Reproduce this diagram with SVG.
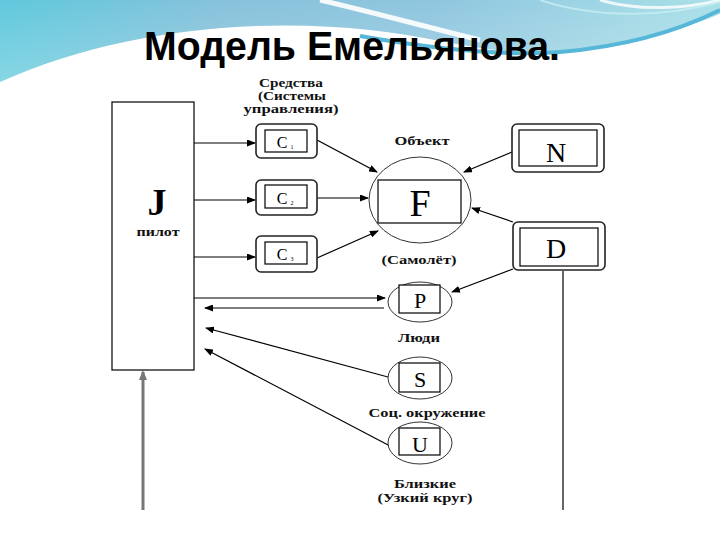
<svg xmlns="http://www.w3.org/2000/svg" width="720" height="540" viewBox="0 0 720 540">
<defs>
<linearGradient id="bg1" x1="0" y1="0" x2="1" y2="0">
<stop offset="0" stop-color="#5fc9dc"/>
<stop offset="0.3" stop-color="#86c2db"/>
<stop offset="0.6" stop-color="#8fc6df"/>
<stop offset="1" stop-color="#a9e0e8"/>
</linearGradient>
<linearGradient id="bg2" x1="0" y1="0" x2="0" y2="1">
<stop offset="0" stop-color="#ffffff" stop-opacity="0"/>
<stop offset="1" stop-color="#ffffff" stop-opacity="0.25"/>
</linearGradient>
<marker id="ah" markerUnits="userSpaceOnUse" markerWidth="9" markerHeight="7" refX="8" refY="3.5" orient="auto">
<path d="M0,0 L9,3.5 L0,7 Z" fill="#000"/>
</marker>
<marker id="ahg" markerUnits="userSpaceOnUse" markerWidth="10" markerHeight="8" refX="8" refY="4" orient="auto">
<path d="M0,0 L10,4 L0,8 Z" fill="#777"/>
</marker>
</defs>
<style>
.ln{stroke:#000;stroke-width:1.2;fill:none}
.box{fill:#fff;stroke:#000;stroke-width:1.2}
.obox{fill:#fff;stroke:#222;stroke-width:1.6}
.ell{fill:#fff;stroke:#333;stroke-width:1}
.lbl{font-family:"Liberation Serif","DejaVu Serif",serif;font-weight:bold;font-size:12px;fill:#111;text-anchor:middle}
.big{font-family:"Liberation Serif","DejaVu Serif",serif;fill:#000;text-anchor:middle}
</style>
<rect x="0" y="0" width="720" height="540" fill="#fff"/>
<g id="background">
<path d="M0,0 H720 V14 C660,38 600,52 545,53 C480,53 430,36 370,30 C260,18 120,28 0,82 Z" fill="url(#bg1)"/>
<path d="M0,0 H720 V14 C660,38 600,52 545,53 C480,53 430,36 370,30 C260,18 120,28 0,82 Z" fill="url(#bg2)"/>
<path d="M360,36 C440,50 510,56 560,52 C630,46 680,30 720,10" fill="none" stroke="#56b7d8" stroke-width="4"/>
<path d="M320,0 C380,14 430,28 480,40" fill="none" stroke="#fff" stroke-width="5" opacity="0.9"/>
<path d="M600,0 C640,12 690,8 720,0" fill="none" stroke="#fff" stroke-width="3" opacity="0.8"/>
<path d="M540,0 C600,20 670,16 720,2" fill="none" stroke="#c8eef2" stroke-width="2" opacity="0.8"/>
</g>
<text x="352" y="60" font-family="Liberation Sans, Arial, sans-serif" font-weight="bold" font-size="40" text-anchor="middle" textLength="416" lengthAdjust="spacingAndGlyphs" fill="#000">Модель Емельянова.</text>

<g id="connectors">
<line class="ln" x1="194" y1="143" x2="255" y2="143" marker-end="url(#ah)"/>
<line class="ln" x1="194" y1="200" x2="255" y2="200" marker-end="url(#ah)"/>
<line class="ln" x1="194" y1="257" x2="255" y2="257" marker-end="url(#ah)"/>
<line class="ln" x1="317" y1="140" x2="377" y2="172" marker-end="url(#ah)"/>
<line class="ln" x1="317" y1="198" x2="368" y2="198" marker-end="url(#ah)"/>
<line class="ln" x1="317" y1="258" x2="378" y2="231" marker-end="url(#ah)"/>
<line class="ln" x1="512" y1="152" x2="464" y2="172" marker-end="url(#ah)"/>
<line class="ln" x1="513" y1="222" x2="472" y2="208" marker-end="url(#ah)"/>
<line class="ln" x1="513" y1="269" x2="452" y2="292" marker-end="url(#ah)"/>
<line class="ln" x1="563" y1="271" x2="563" y2="510"/>
<line class="ln" x1="194" y1="298" x2="385" y2="298" marker-end="url(#ah)"/>
<line class="ln" x1="384" y1="308" x2="205" y2="308" marker-end="url(#ah)"/>
<line class="ln" x1="388" y1="377" x2="206" y2="328" marker-end="url(#ah)"/>
<line class="ln" x1="390" y1="446" x2="205" y2="349" marker-end="url(#ah)"/>
<line x1="143" y1="510" x2="143" y2="372" stroke="#777" stroke-width="3" marker-end="url(#ahg)"/>
</g>

<g id="node-J">
<rect class="box" x="112" y="102" width="82" height="268"/>
<text class="big" x="157" y="215" font-size="38" font-weight="bold">J</text>
<text class="lbl" x="158" y="236" textLength="43" lengthAdjust="spacingAndGlyphs">пилот</text>
</g>

<g id="label-sredstva">
<text class="lbl" x="291" y="87" textLength="64" lengthAdjust="spacingAndGlyphs">Средства</text>
<text class="lbl" x="292" y="100" textLength="68" lengthAdjust="spacingAndGlyphs">(Системы</text>
<text class="lbl" x="291" y="113" textLength="95" lengthAdjust="spacingAndGlyphs">управления)</text>
</g>

<g id="node-C1">
<rect class="obox" x="256" y="124" width="61" height="34" rx="5"/>
<rect class="box" x="265" y="130" width="42" height="22"/>
<text class="big" x="282" y="148" font-size="16">C</text>
<text class="big" x="292" y="149" font-size="6">1</text>
</g>
<g id="node-C2">
<rect class="obox" x="256" y="180" width="61" height="35" rx="5"/>
<rect class="box" x="265" y="185" width="42" height="23"/>
<text class="big" x="282" y="204" font-size="16">C</text>
<text class="big" x="292" y="205" font-size="6">2</text>
</g>
<g id="node-C3">
<rect class="obox" x="256" y="236" width="61" height="36" rx="5"/>
<rect class="box" x="265" y="242" width="42" height="22"/>
<text class="big" x="282" y="260" font-size="16">C</text>
<text class="big" x="292" y="261" font-size="6">3</text>
</g>

<g id="node-F">
<text class="lbl" x="422" y="145" textLength="55" lengthAdjust="spacingAndGlyphs">Объект</text>
<ellipse class="ell" cx="420" cy="200" rx="51" ry="43"/>
<rect class="box" x="378" y="180" width="83" height="43" stroke-width="1.5"/>
<text class="big" x="420" y="216" font-size="38">F</text>
<text class="lbl" x="419" y="264" textLength="75" lengthAdjust="spacingAndGlyphs">(Самолёт)</text>
</g>

<g id="node-N">
<rect class="obox" x="512" y="124" width="92" height="48" rx="5"/>
<rect class="box" x="519" y="130" width="78" height="36"/>
<text class="big" x="556" y="162" font-size="28">N</text>
</g>

<g id="node-D">
<rect class="obox" x="513" y="222" width="92" height="48" rx="5"/>
<rect class="box" x="520" y="228" width="78" height="38"/>
<text class="big" x="556" y="258" font-size="28">D</text>
</g>

<g id="node-P">
<ellipse class="ell" cx="420" cy="302" rx="32" ry="20"/>
<rect class="box" x="399" y="285" width="41" height="28"/>
<text class="big" x="420" y="308" font-size="22">P</text>
<text class="lbl" x="419" y="342" textLength="42" lengthAdjust="spacingAndGlyphs">Люди</text>
</g>

<g id="node-S">
<ellipse class="ell" cx="420" cy="378" rx="32" ry="21"/>
<rect class="box" x="399" y="363" width="41" height="29"/>
<text class="big" x="420" y="387" font-size="22">S</text>
<text class="lbl" x="427" y="417" textLength="117" lengthAdjust="spacingAndGlyphs">Соц. окружение</text>
</g>

<g id="node-U">
<ellipse class="ell" cx="420" cy="443" rx="32" ry="21"/>
<rect class="box" x="399" y="428" width="41" height="27"/>
<text class="big" x="420" y="452" font-size="22">U</text>
<text class="lbl" x="425" y="488" textLength="62" lengthAdjust="spacingAndGlyphs">Близкие</text>
<text class="lbl" x="425" y="502" textLength="95" lengthAdjust="spacingAndGlyphs">(Узкий круг)</text>
</g>
</svg>
